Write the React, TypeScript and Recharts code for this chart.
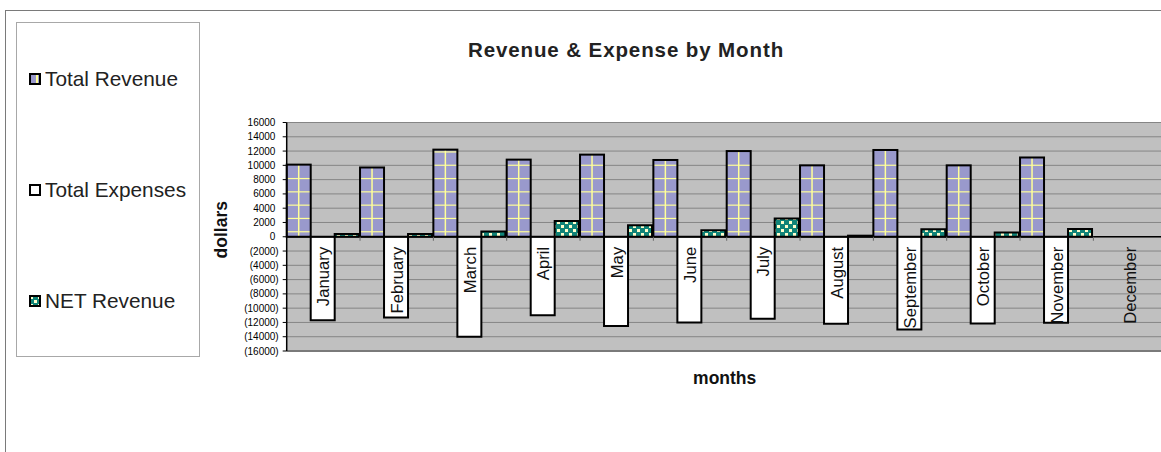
import { BarChart, Bar, XAxis, YAxis, CartesianGrid, ReferenceLine, Legend } from "recharts";

const months = [
    "January", "February", "March", "April", "May", "June",
    "July", "August", "September", "October", "November", "December",
];
const totalRevenue = [10100, 9700, 12200, 10800, 11500, 10750, 12000, 10000, 12150, 10000, 11100, 0];
const totalExpenses = [-11700, -11300, -14000, -11000, -12500, -12000, -11500, -12200, -13000, -12150, -12050, 0];
const netRevenue = [400, 400, 750, 2200, 1600, 900, 2550, 150, 1050, 600, 1100, 0];
const dollarTicks = [
    -16000, -14000, -12000, -10000, -8000, -6000, -4000, -2000, 0,
    2000, 4000, 6000, 8000, 10000, 12000, 14000, 16000,
];
const seriesOrder = ["Total Revenue", "Total Expenses", "NET Revenue"];

const FONT = '"Liberation Sans", Arial, Helvetica, sans-serif';

const W = 1200;
const H = 452;
const margin = { top: 122.5, right: 33.3, bottom: 71, left: 216.7 };
const yAxisWidth = 70;
const xAxisHeight = 30;
const yMin = -16000;
const yMax = 16000;
const plotH = H - margin.top - margin.bottom - xAxisHeight;
const plotW = W - margin.left - margin.right - yAxisWidth;
const band = plotW / months.length;

const chartData = months.map((month, i) => ({
    month,
    revenue: totalRevenue[i],
    expenses: totalExpenses[i],
    net: netRevenue[i],
}));

// lavender bar with the pale yellow grid drawn over it
function RevenueShape(props: any) {
    const { x, y, width, height } = props;
    if (!height) return null;
    const top = Math.min(y, y + height);
    const bottom = Math.max(y, y + height);
    const rows: number[] = [];
    for (let ly = bottom - 5; ly > top + 2; ly -= 13.3) rows.push(ly);
    return (
        <g>
            <rect x={x} y={top} width={width} height={bottom - top} fill="#9999CC" />
            {rows.map(ly => (
                <line key={ly} x1={x} x2={x + width} y1={ly} y2={ly} stroke="#FFFF99" strokeWidth={1.2} />
            ))}
            <line x1={x + width / 2} x2={x + width / 2} y1={top} y2={bottom} stroke="#FFFF99" strokeWidth={1.5} />
            <rect x={x} y={top} width={width} height={bottom - top} fill="none" stroke="#000" strokeWidth={2} />
        </g>
    );
}

// category axis crosses at zero: month names hang just below it
function MonthTick(props: any) {
    const { x, y, payload } = props;
    const zeroY = y - plotH * (0 - yMin) / (yMax - yMin);
    const ty = zeroY + 10;
    const edge = x + band / 2;
    return (
        <g>
            <line x1={edge} x2={edge} y1={zeroY} y2={zeroY + 4} stroke="#666" />
            <text
                x={x}
                y={ty}
                dy="0.35em"
                transform={`rotate(-90 ${x} ${ty})`}
                textAnchor="end"
                fontSize={16.7}
                fontFamily={FONT}
                fill="#111"
            >
                {payload.value}
            </text>
        </g>
    );
}

function DollarTick(props: any) {
    const { x, y, payload } = props;
    const v = payload.value;
    const text = v < 0 ? `(${Math.abs(v)})` : `${v}`;
    return (
        <text x={v < 0 ? x : x - 3.3} y={y} dy="0.35em" textAnchor="end" fontSize={10} fontFamily={FONT} fill="#000">
            {text}
        </text>
    );
}

function DollarsLabel(props: any) {
    const vb = props.viewBox;
    const lx = vb.x + 10.5;
    const ly = vb.y + vb.height / 2 - 7;
    return (
        <text x={lx} y={ly} transform={`rotate(-90 ${lx} ${ly})`} textAnchor="middle" fontSize={17.5} fontWeight="bold" fontFamily={FONT} fill="#111">
            dollars
        </text>
    );
}

function MonthsLabel(props: any) {
    const vb = props.viewBox;
    return (
        <text x={vb.x + vb.width / 2 - 2} y={vb.y + 27} dy="0.35em" textAnchor="middle" fontSize={17.5} fontWeight="bold" fontFamily={FONT} fill="#111">
            months
        </text>
    );
}

function LegendIcon({ dataKey }: { dataKey: string }) {
    let fill = "#fff";
    if (dataKey === "revenue") fill = "#9999CC";
    if (dataKey === "net") fill = "url(#netPattern)";
    return (
        <svg width={12} height={12} style={{ marginLeft: 12, marginRight: 4, flex: "none" }}>
            <rect x={1} y={1} width={10} height={10} fill={fill} />
            {dataKey === "revenue" && <line x1={8} x2={8} y1={1} y2={11} stroke="#FFFF99" strokeWidth={2} />}
            <rect x={1} y={1} width={10} height={10} fill="none" stroke="#000" strokeWidth={2} />
        </svg>
    );
}

function LegendBox(props: any) {
    const items = [...(props.payload ?? [])].sort(
        (a: any, b: any) => seriesOrder.indexOf(a.value) - seriesOrder.indexOf(b.value)
    );
    return (
        <div style={{ height: "100%", display: "flex", flexDirection: "column" }}>
            {items.map((item: any) => (
                <div key={item.value} style={{ flex: 1, display: "flex", alignItems: "center" }}>
                    <LegendIcon dataKey={item.dataKey} />
                    <span style={{ fontSize: 20.8, color: "#222", fontFamily: FONT, whiteSpace: "nowrap" }}>{item.value}</span>
                </div>
            ))}
        </div>
    );
}

export default function App() {
    return (
        <div style={{ position: "absolute", left: 0, top: 0, width: 1161, height: 452, overflow: "hidden", background: "#fff", fontFamily: FONT }}>
            <div style={{ position: "absolute", left: 5, top: 10, width: 1300, height: 600, border: "1px solid #7a7a7a" }} />
            <svg width={0} height={0} style={{ position: "absolute" }}>
                <defs>
                    <pattern id="netPattern" width={8} height={8} patternUnits="userSpaceOnUse">
                        <rect width={8} height={8} fill="#108478" />
                        <rect x={1} y={1} width={3} height={3} fill="#FFFFCC" />
                        <rect x={5} y={5} width={3} height={3} fill="#FFFFCC" />
                    </pattern>
                </defs>
            </svg>
            <div style={{ position: "absolute", left: 0, top: 40, width: 1252, textAlign: "center", fontSize: 20.5, lineHeight: "20px", fontWeight: "bold", letterSpacing: 0.9, color: "#222" }}>
                Revenue &amp; Expense by Month
            </div>
            <div style={{ position: "absolute", left: 0, top: 0 }}>
                <BarChart
                    width={W}
                    height={H}
                    data={chartData}
                    margin={margin}
                    barCategoryGap={0}
                    barGap={0}
                >
                    <CartesianGrid vertical={false} stroke="#858585" fill="#C0C0C0" />
                    <XAxis
                        dataKey="month"
                        interval={0}
                        tick={MonthTick}
                        tickSize={0}
                        tickMargin={0}
                        tickLine={false}
                        axisLine={false}
                        height={xAxisHeight}
                        label={{ value: "months", content: MonthsLabel }}
                    />
                    <YAxis
                        width={yAxisWidth}
                        domain={[yMin, yMax]}
                        ticks={dollarTicks}
                        interval={0}
                        tick={DollarTick}
                        tickSize={4}
                        tickMargin={4}
                        axisLine={{ stroke: "#000", strokeWidth: 1.5 }}
                        tickLine={{ stroke: "#000" }}
                        label={{ value: "dollars", content: DollarsLabel }}
                    />
                    <Legend
                        layout="vertical"
                        align="center"
                        verticalAlign="middle"
                        content={LegendBox}
                        wrapperStyle={{ left: 16, top: 22, width: 184, height: 335, border: "1px solid #a8a8a8", boxSizing: "border-box", background: "#fff" }}
                    />
                    <ReferenceLine y={-16000} stroke="#7a7a7a" strokeWidth={2} />
                    <Bar dataKey="revenue" name="Total Revenue" fill="#9999CC" shape={RevenueShape} isAnimationActive={false} />
                    <Bar dataKey="expenses" name="Total Expenses" fill="#fff" stroke="#000" strokeWidth={2} isAnimationActive={false} />
                    <Bar dataKey="net" name="NET Revenue" fill="url(#netPattern)" stroke="#000" strokeWidth={2} isAnimationActive={false} />
                    <ReferenceLine y={0} stroke="#000" strokeWidth={1.5} />
                </BarChart>
            </div>
        </div>
    );
}
